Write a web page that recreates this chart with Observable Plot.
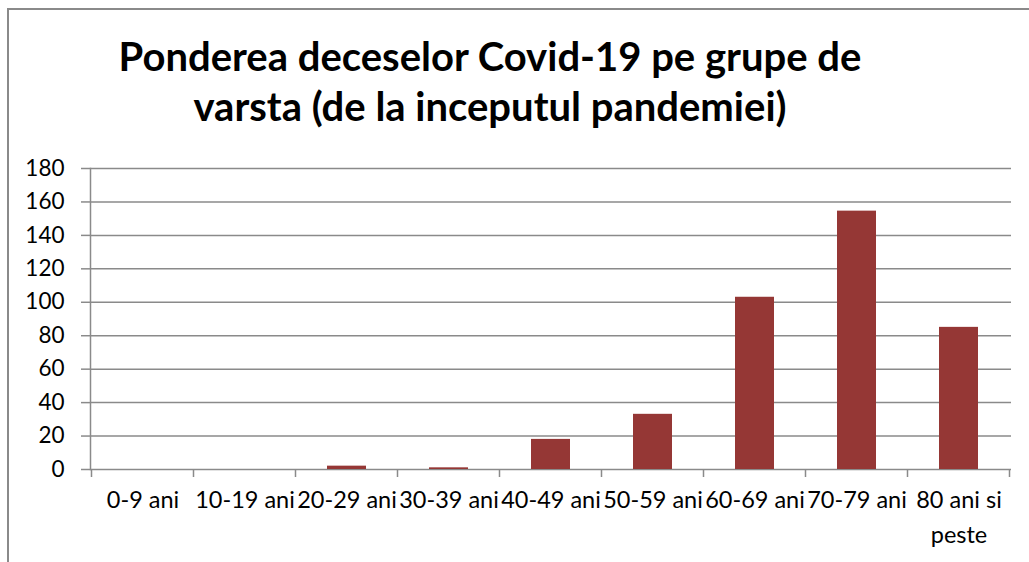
<!DOCTYPE html>
<html><head><meta charset="utf-8">
<script src="https://cdn.jsdelivr.net/npm/d3@7"></script>
<script src="https://cdn.jsdelivr.net/npm/@observablehq/plot@0.6"></script>
<style>
body{margin:0;background:#fff;}
#wrap{position:relative;width:1029px;height:562px;overflow:hidden;font-family:Lato,sans-serif;background:#fff;}
#frame{position:absolute;left:7px;top:8px;width:1100px;height:700px;border-left:2px solid #8a8a8a;border-top:2px solid #8a8a8a;}
#title{position:absolute;left:0;top:31px;width:980px;text-align:center;font-weight:bold;font-size:40px;line-height:50px;color:#000;}
#chart{position:absolute;left:0;top:150px;}
</style></head><body>
<div id="wrap"><div id="frame"></div><div id="title">Ponderea deceselor Covid-19 pe grupe de<br>varsta (de la inceputul pandemiei)</div><div id="chart"></div></div>
<script>
const categories = ["0-9 ani","10-19 ani","20-29 ani","30-39 ani","40-49 ani","50-59 ani","60-69 ani","70-79 ani","80 ani si peste"];
const values = [0, 0, 2, 1, 18, 33, 103, 154.5, 85];
const tickLabels = ["0-9 ani","10-19 ani","20-29 ani","30-39 ani","40-49 ani","50-59 ani","60-69 ani","70-79 ani","80 ani si\npeste"];
const yTicks = [0, 20, 40, 60, 80, 100, 120, 140, 160, 180];

const data = categories.map((c, i) => ({cat: c, value: values[i], label: tickLabels[i]}));
const gray = "#8a8a8a";

function boundaryTicks(len) {
  return Plot.ruleY([0], {
    render(index, scales, vals, dims) {
      const sx = scales.x;
      const desc = scales.scales ? scales.scales.x : {};
      const bw = typeof sx.bandwidth === "function" ? sx.bandwidth() : (sx.bandwidth ?? desc.bandwidth);
      const st = typeof sx.step === "function" ? sx.step() : (sx.step ?? desc.step);
      const y0 = scales.y(0);
      const g = d3.create("svg:g").attr("stroke", gray).attr("stroke-width", 1.5);
      const xs = categories.map(c => sx(c) - (st - bw) / 2);
      xs.push(sx(categories[categories.length - 1]) + bw + (st - bw) / 2);
      for (const x of xs) {
        g.append("line").attr("x1", x).attr("x2", x).attr("y1", y0).attr("y2", y0 + len);
      }
      return g.node();
    }
  });
}

const plot = Plot.plot({
  width: 1029, height: 412,
  marginLeft: 90, marginRight: 18, marginTop: 18, marginBottom: 93,
  style: {fontFamily: "Lato, sans-serif", fontSize: "22px", color: "#000", background: "transparent", overflow: "visible"},
  x: {domain: categories, paddingInner: 0.62, paddingOuter: 0.31, axis: null},
  y: {domain: [0, 180], axis: null},
  marks: [
    Plot.ruleY(yTicks, {stroke: gray, strokeWidth: 1.5}),
    Plot.frame({anchor: "left", stroke: gray, strokeWidth: 1.5}),
    Plot.axisY({ticks: yTicks, tickSize: 9, tickPadding: 17, stroke: gray, strokeWidth: 1.5, tickFormat: d => String(d), fontSize: 22.5, fill: "#000", label: null}),
    boundaryTicks(8),
    Plot.barY(data, {x: "cat", y: "value", fill: "#953735"}),
    Plot.text(data, {x: "cat", y: 0, text: "label", dy: 13, lineAnchor: "top", lineHeight: 1.5, fontSize: 23.5, fill: "#000"})
  ]
});
document.getElementById("chart").appendChild(plot);
</script>
</body></html>
